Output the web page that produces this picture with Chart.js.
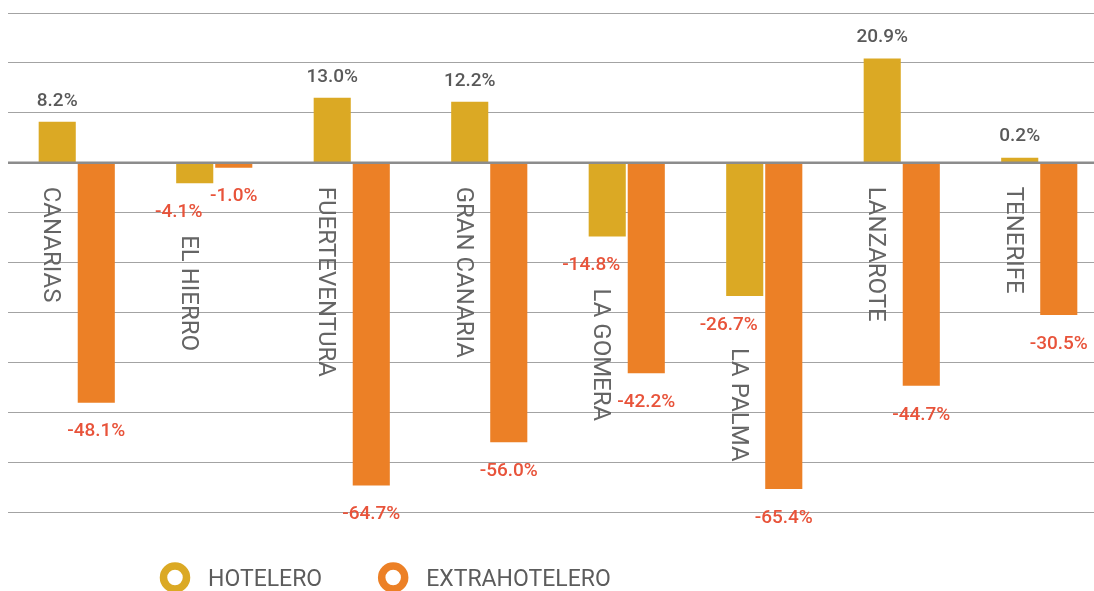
<!DOCTYPE html>
<html>
<head>
<meta charset="utf-8">
<script src="https://cdn.jsdelivr.net/npm/chart.js@4.4.1/dist/chart.umd.min.js"></script>
<style>
  html, body { margin: 0; padding: 0; background: #fff; overflow: hidden; width: 1094px; height: 591px; }
  canvas { display: block; }
</style>
</head>
<body>
<canvas id="chart" width="1108" height="591"></canvas>
<script>
const islands = ['CANARIAS', 'EL HIERRO', 'FUERTEVENTURA', 'GRAN CANARIA', 'LA GOMERA', 'LA PALMA', 'LANZAROTE', 'TENERIFE'];
const hotelero = [8.2, -4.1, 13.0, 12.2, -14.8, -26.7, 20.9, 0.2];
const extrahotelero = [-48.1, -1.0, -64.7, -56.0, -42.2, -65.4, -44.7, -30.5];
const seriesNames = ['HOTELERO', 'EXTRAHOTELERO'];
const seriesColors = ['#DBA924', '#EC8026'];
const yMin = -70, yMax = 30, yStep = 10;

// value labels above / below each bar
const valueLabels = {
  id: 'valueLabels',
  afterDatasetsDraw(chart) {
    const ctx = chart.ctx;
    ctx.save();
    ctx.font = '500 19px Roboto';
    ctx.textAlign = 'center';
    ctx.textBaseline = 'middle';
    chart.data.datasets.forEach((ds, di) => {
      chart.getDatasetMeta(di).data.forEach((bar, i) => {
        const v = ds.data[i];
        const txt = v.toFixed(1) + '%';
        if (v >= 0) {
          ctx.fillStyle = '#595959';
          ctx.fillText(txt, bar.x, bar.y - 21);
        } else {
          ctx.fillStyle = '#E8533A';
          ctx.fillText(txt, bar.x + (di === 0 ? -16 : 0), bar.y + 29);
        }
      });
    });
    ctx.restore();
  }
};

// zero line on top of the bars
const zeroLine = {
  id: 'zeroLine',
  afterDatasetsDraw(chart) {
    const ctx = chart.ctx, a = chart.chartArea;
    const y = chart.scales.y.getPixelForValue(0);
    ctx.save();
    ctx.strokeStyle = '#8c8c8c';
    ctx.lineWidth = 2.5;
    ctx.beginPath();
    ctx.moveTo(a.left, y);
    ctx.lineTo(a.right, y);
    ctx.stroke();
    ctx.restore();
  }
};

// rotated island names under the first bar of each group
const islandLabels = {
  id: 'islandLabels',
  afterDatasetsDraw(chart) {
    const ctx = chart.ctx;
    const zeroY = chart.scales.y.getPixelForValue(0);
    ctx.save();
    ctx.font = '400 24px Roboto';
    ctx.fillStyle = '#656565';
    ctx.textAlign = 'left';
    ctx.textBaseline = 'middle';
    chart.getDatasetMeta(0).data.forEach((bar, i) => {
      const v = hotelero[i];
      const y0 = v >= 0 ? zeroY + 24 : bar.y + 52;
      ctx.save();
      ctx.translate(bar.x - 7, y0);
      ctx.rotate(Math.PI / 2);
      ctx.fillText(islands[i], 0, 0);
      ctx.restore();
    });
    ctx.restore();
  }
};

// ring legend at the bottom
const ringLegend = {
  id: 'ringLegend',
  afterDraw(chart) {
    const ctx = chart.ctx;
    ctx.save();
    ctx.font = '400 23px Roboto';
    ctx.textBaseline = 'alphabetic';
    ctx.textAlign = 'left';
    let x = 175;
    const cy = 577.5;
    seriesNames.forEach((name, i) => {
      ctx.strokeStyle = seriesColors[i];
      ctx.lineWidth = 7.5;
      ctx.beginPath();
      ctx.arc(x, cy, 11.5, 0, Math.PI * 2);
      ctx.stroke();
      ctx.fillStyle = '#5c5c5c';
      ctx.fillText(name, x + 33, 586);
      x = x + 33 + ctx.measureText(name).width + 71;
    });
    ctx.restore();
  }
};

const ctx = document.getElementById('chart').getContext('2d');
new Chart(ctx, {
  type: 'bar',
  data: {
    labels: islands,
    datasets: [
      { label: seriesNames[0], data: hotelero, backgroundColor: seriesColors[0] },
      { label: seriesNames[1], data: extrahotelero, backgroundColor: seriesColors[1] }
    ]
  },
  options: {
    responsive: false,
    animation: false,
    datasets: { bar: { categoryPercentage: 0.568, barPercentage: 0.95, minBarLength: 5 } },
    layout: { padding: { left: 8, right: 0, top: 13, bottom: 79 } },
    plugins: { legend: { display: false }, tooltip: { enabled: false } },
    scales: {
      x: { display: false },
      y: {
        min: yMin,
        max: yMax,
        ticks: { display: false, stepSize: yStep },
        border: { display: false },
        grid: { color: '#a3a3a3', lineWidth: 1, drawTicks: false },
        afterFit: s => { s.width = 0; }
      }
    }
  },
  plugins: [zeroLine, valueLabels, islandLabels, ringLegend]
});
</script>
</body>
</html>
